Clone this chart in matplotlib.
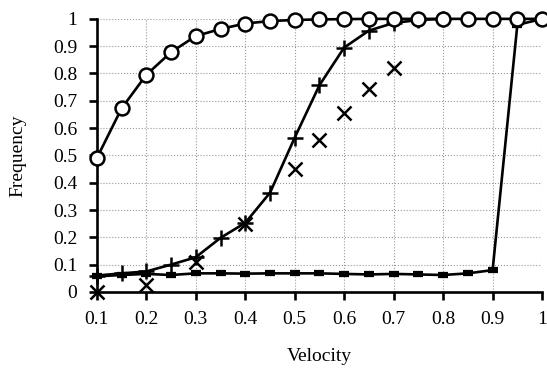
import numpy as np
import matplotlib
matplotlib.use('Agg')
import matplotlib.pyplot as plt

plt.rcParams['font.family'] = ['Liberation Serif', 'DejaVu Serif']

# velocity grid, step 0.05
vel = [0.1, 0.15, 0.2, 0.25, 0.3, 0.35, 0.4, 0.45, 0.5, 0.55,
       0.6, 0.65, 0.7, 0.75, 0.8, 0.85, 0.9, 0.95, 1.0]

circ = [0.49, 0.672, 0.795, 0.878, 0.937, 0.963, 0.983, 0.992, 0.996, 0.998,
        0.999, 1.0, 1.0, 1.0, 1.0, 1.0, 1.0, 1.0, 1.0]

plus = [0.06, 0.068, 0.075, 0.1, 0.127, 0.198, 0.253, 0.363, 0.565, 0.757,
        0.895, 0.957, 0.985, 0.996, 1.0, 1.0, 1.0, 1.0, 1.0]

dash = [0.057, 0.062, 0.066, 0.062, 0.068, 0.068, 0.067, 0.068, 0.068, 0.068,
        0.066, 0.064, 0.066, 0.064, 0.062, 0.068, 0.08, 0.978, 1.0]

cross_x = [0.1, 0.2, 0.3, 0.4, 0.5, 0.55, 0.6, 0.65, 0.7]
cross_y = [0.0, 0.025, 0.108, 0.25, 0.45, 0.557, 0.655, 0.745, 0.82]

fig = plt.figure(figsize=(5.47, 3.7), dpi=100)
ax = fig.add_axes([0.177, 0.211, 0.814, 0.738])

lw = 1.9
ax.plot(vel, dash, color='black', lw=lw, marker='_', ms=7, mew=4.5, clip_on=False, zorder=3)
ax.plot(vel[:15], plus[:15], color='black', lw=lw, marker='+', ms=12, mew=1.8, clip_on=False, zorder=4)
ax.plot(cross_x, cross_y, ls='none', color='black', marker='x', ms=10.5, mew=1.8, clip_on=False, zorder=4)
ax.plot(vel, circ, color='black', lw=lw, marker='o', ms=10, mfc='white', mec='black',
        mew=1.8, clip_on=False, zorder=5)

ax.set_xlim(0.1, 1.0)
ax.set_ylim(0, 1.0)
ax.set_xticks(np.arange(0.1, 1.01, 0.1))
ax.set_yticks(np.arange(0, 1.01, 0.1))
ax.set_xticklabels(['0.1', '0.2', '0.3', '0.4', '0.5', '0.6', '0.7', '0.8', '0.9', '1'])
ax.set_yticklabels(['0', '0.1', '0.2', '0.3', '0.4', '0.5', '0.6', '0.7', '0.8', '0.9', '1'])

ax.grid(True, ls=':', color='#999999', lw=0.8)
ax.set_axisbelow(True)
for s in ['top', 'right']:
    ax.spines[s].set_visible(False)
for s in ['left', 'bottom']:
    ax.spines[s].set_linewidth(1.9)
ax.tick_params(direction='out', length=6, width=1.9, labelsize=14, pad=8)

ax.set_xlabel('Velocity', fontsize=14, labelpad=14)
ax.set_ylabel('Frequency', fontsize=14, labelpad=19)

fig.savefig('out.png', dpi=100)
